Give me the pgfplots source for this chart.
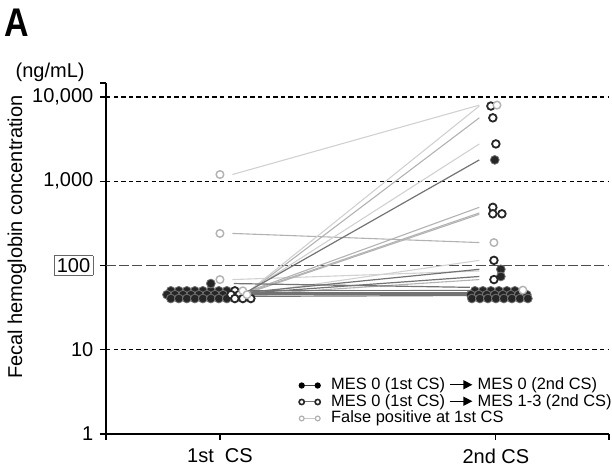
\documentclass[border=0pt]{standalone}
\usepackage{pgfplots}
\pgfplotsset{compat=1.18}
\usepackage{graphicx}
\usepackage{fontspec}
\setmainfont{Liberation Sans}
\usetikzlibrary{arrows.meta}
\newcommand{\arr}{\smash{\tikz[baseline=-0.6ex]\draw[line width=0.7pt,-{Triangle[length=4.5pt,width=4.5pt]}] (0,0)--(11pt,0);}}
\pgfplotsset{
  mkA/.style={only marks, mark=*, mark size=2.2pt, mark options={fill=black!85, draw=black!55, line width=0.4pt}, forget plot},
  mkB/.style={only marks, mark=*, mark size=1.9pt, mark options={fill=white, draw=black!85, line width=0.9pt}, forget plot},
  mkC/.style={only marks, mark=*, mark size=1.9pt, mark options={fill=white, draw=black!30, line width=0.7pt}, forget plot},
  lnA/.style={no marks, black!55, line width=0.6pt, forget plot},
  lnB/.style={no marks, black!30, line width=0.55pt, forget plot},
  lnC/.style={no marks, black!18, line width=0.55pt, forget plot},
}
\begin{document}
\begin{tikzpicture}
\useasboundingbox (-53pt,-17.5pt) rectangle (253pt,217pt);
\begin{axis}[
  at={(0,0)}, anchor=south west,
  scale only axis, width=251.5pt, height=175.5pt,
  xmin=0.587, xmax=2.41,
  ymode=log, ymin=1, ymax=14650,
  axis x line*=bottom, axis y line*=left,
  axis line style={-, black, line width=0.7pt},
  xtick={0.587,1,2,2.41}, xticklabels={,1st\hspace{0.55em}CS,2nd CS,},
  ytick={1,10,100,1000,10000,14650},
  yticklabels={1,10,{\setlength{\fboxsep}{1.2pt}\fcolorbox{black!60}{white}{100}},{1,000},{10,000},},
  yminorticks=false,
  tick align=outside, major tick length=2.8pt,
  tick style={black, line width=0.6pt},
  ticklabel style={font=\fontsize{10}{11}\selectfont},
  xticklabel style={yshift=-1pt},
  legend cell align=left,
  legend style={at={(rel axis cs:1.006,0.019)}, anchor=south east, draw=none, fill=none,
    font=\fontsize{8.2}{8.5}\selectfont, row sep=-0.2pt, inner sep=0pt,
    nodes={inner xsep=0pt, inner ysep=0.5pt}},
  legend image code/.code={\draw[#1] plot coordinates {(0pt,0pt) (8pt,0pt)}; \path (14.5pt,0pt);},
  clip=false,
]
% reference lines
\draw[black, line width=0.65pt, dash pattern=on 2.2pt off 1.6pt] (axis cs:0.587,10) -- (axis cs:2.41,10);
\draw[black, line width=0.65pt, dash pattern=on 2.2pt off 1.6pt] (axis cs:0.587,1000) -- (axis cs:2.41,1000);
\draw[black, line width=0.65pt, dash pattern=on 2.2pt off 1.6pt] (axis cs:0.587,10000) -- (axis cs:2.41,10000);
\draw[black!70, line width=0.75pt, dash pattern=on 5pt off 1.6pt] (axis cs:0.587,100) -- (axis cs:2.41,100);

% false positive lines
\addplot[lnC] coordinates {(1.045,1200) (1.94,8000)};
\addplot[lnB] coordinates {(1.045,240) (1.94,187)};
\addplot[lnC] coordinates {(1.045,68) (1.94,86)};
\addplot[lnC] coordinates {(1.1,50) (1.906,51)};
% MES 0 -> MES 1-3 lines
\addplot[lnC] coordinates {(1.1,48) (1.94,7800)};
\addplot[lnB] coordinates {(1.1,47) (1.94,5650)};
\addplot[lnC] coordinates {(1.1,48) (1.94,2770)};
\addplot[lnB] coordinates {(1.1,49) (1.94,490)};
\addplot[lnB] coordinates {(1.1,48) (1.94,420)};
\addplot[lnB] coordinates {(1.1,47) (1.94,405)};
\addplot[lnC] coordinates {(1.1,46) (1.94,115)};
\addplot[lnB] coordinates {(1.1,45) (1.94,68)};
% MES 0 -> MES 0 lines
\addplot[lnA] coordinates {(1.1,49) (1.94,1790)};
\addplot[lnA] coordinates {(1.1,48) (1.94,90)};
\addplot[lnA] coordinates {(1.1,47) (1.94,74)};
\addplot[lnA] coordinates {(1.05,61) (1.906,55)};
\addplot[lnA] coordinates {(1.1,50) (1.906,50)};
\addplot[lnA] coordinates {(1.1,47) (1.906,47)};
\addplot[lnA] coordinates {(1.1,45) (1.906,45.5)};
\addplot[lnA] coordinates {(1.1,48) (1.906,46)};
\addplot[lnA] coordinates {(1.1,43) (1.906,44)};

% 1st CS: MES 0 -> MES 0 (filled)
\addplot[mkA] coordinates {
 (0.822,50) (0.851,50) (0.880,50) (0.909,50) (0.938,50) (0.967,50) (0.996,50) (1.025,50)
 (0.808,45) (0.837,45) (0.866,45) (0.895,45) (0.924,45) (0.953,45) (0.982,45) (1.011,45)
 (0.822,40.5) (0.851,40.5) (0.880,40.5) (0.909,40.5) (0.938,40.5) (0.967,40.5) (0.996,40.5) (1.025,40.5)
 (0.967,61)
};
% 1st CS: MES 0 -> MES 1-3 (open dark)
\addplot[mkB] coordinates {
 (1.054,50) (1.040,45) (1.069,45) (1.054,40.5) (1.083,40.5) (1.112,40.5)
};
% 1st CS: false positive (open light)
\addplot[mkC] coordinates {
 (1.083,50) (1.098,45) (1.0,1200) (1.0,240) (1.0,68)
};
% 2nd CS: filled
\addplot[mkA] coordinates {
 (1.924,50) (1.953,50) (1.982,50) (2.011,50) (2.040,50) (2.069,50)
 (1.909,45) (1.938,45) (1.967,45) (1.996,45) (2.025,45) (2.054,45) (2.083,45) (2.112,45)
 (1.913,40.5) (1.942,40.5) (1.971,40.5) (2.0,40.5) (2.029,40.5) (2.058,40.5) (2.087,40.5) (2.116,40.5)
 (1.996,1790) (2.018,90) (2.018,74)
};
% 2nd CS: open dark
\addplot[mkB] coordinates {
 (1.982,7800) (1.989,5650) (2.0,2770) (1.989,490) (1.989,410) (2.022,410) (1.993,115) (1.993,68)
};
% 2nd CS: open light
\addplot[mkC] coordinates {
 (2.004,8000) (1.993,187) (2.098,51)
};

% legend
\addlegendimage{mark=*, black!75, line width=0.5pt, mark size=1.3pt, mark options={fill=black, draw=black, solid}}
\addlegendentry{MES 0 (1st CS) \arr\ MES 0 (2nd CS)}
\addlegendimage{mark=*, black!55, line width=0.5pt, mark size=1.3pt, mark options={fill=white, draw=black!85, line width=0.8pt}}
\addlegendentry{MES 0 (1st CS) \arr\ MES 1-3 (2nd CS)}
\addlegendimage{mark=*, black!22, line width=0.5pt, mark size=1.2pt, mark options={fill=white, draw=black!30, line width=0.6pt}}
\addlegendentry{False positive at 1st CS}

\node[rotate=90, font=\fontsize{10}{11}\selectfont] at (rel axis cs:-0.177,0.561) {Fecal hemoglobin concentration};
\node[font=\fontsize{10}{11}\selectfont] at (rel axis cs:-0.111,1.031) {(ng/mL)};
\node[font=\fontsize{20}{22}\bfseries] at (rel axis cs:-0.177,1.171) {\scalebox{0.85}[1]{A}};
\end{axis}
\end{tikzpicture}
\end{document}
